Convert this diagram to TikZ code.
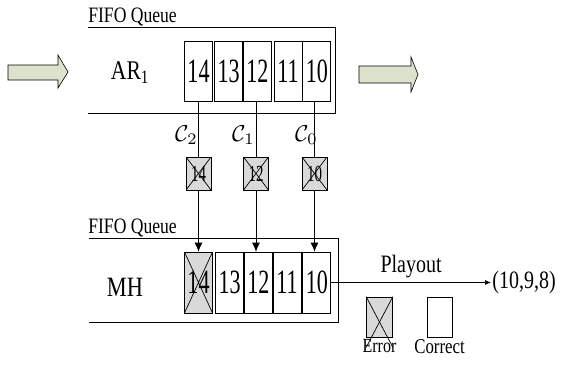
\documentclass[tikz,border=0pt]{standalone}
\usepackage{fontspec}
\setmainfont{Liberation Serif}[FakeStretch=0.8]
\newfontfamily\digitfont{Liberation Serif}[FakeStretch=0.65]
\usetikzlibrary{positioning,arrows.meta}
\definecolor{errgray}{HTML}{D9D9D9}
\definecolor{arrowgreen}{HTML}{DDE2CC}
\newcommand{\fsz}[1]{\fontsize{#1}{#1}\selectfont}
\newcommand{\chan}[1]{\scalebox{2.3}{$\mathcal{C}_{#1}$}}
\begin{document}
\begin{tikzpicture}[x=1pt,y=-1pt,line width=0.7pt]
    \tikzstyle{cell} = [rectangle, draw, minimum width=28pt, minimum height=60pt, inner sep=0pt, font=\digitfont\fsz{34}]
    \tikzstyle{crossed} = [fill=errgray, path picture={\draw (path picture bounding box.north west) -- (path picture bounding box.south east) (path picture bounding box.north east) -- (path picture bounding box.south west);}]
    \tikzstyle{xbox} = [rectangle, draw, crossed, minimum width=25pt, minimum height=33pt, inner sep=0pt, font=\digitfont\fsz{23}]
    \tikzstyle{keybox} = [rectangle, draw, minimum width=26pt, minimum height=40pt, inner sep=0pt]
    \tikzstyle{clabel} = [anchor=east, inner sep=0pt]
    \tikzstyle{label} = [inner sep=0pt, font=\fsz{22}]
    \tikzstyle{arrow} = [-{Latex[length=9pt,width=8pt]}]
    \tikzstyle{block} = [draw, line width=0.6pt, fill=arrowgreen]
    \useasboundingbox (0,0) rectangle (566,365);

    % upper queue (AR)
    \node [label, anchor=base west] (fifo1) at (88,22) {FIFO Queue};
    \draw (88,27) -- (335,27) -- (335,113) -- (88,113);
    \node [label, font=\fsz{27}] (ar) at (130,73) {AR\textsubscript{1}};
    \node [cell] (t14) at (198.5,71) {14};
    \node [cell, right=1.5pt of t14] (t13) {13};
    \node [cell, right=0pt of t13] (t12) {12};
    \node [cell, right=2pt of t12] (t11) {11};
    \node [cell, right=0pt of t11] (t10) {10};
    \draw [block] (8,65) -- (58,65) -- (58,55) -- (68,72) -- (58,88) -- (58,80) -- (8,80) -- cycle;
    \draw [block] (359,66) -- (411,66) -- (411,57) -- (418,74.5) -- (411,92) -- (411,83) -- (359,83) -- cycle;

    % lower queue (MH)
    \node [label, anchor=base west] (fifo2) at (88,233) {FIFO Queue};
    \draw (89,238) -- (338,238) -- (338,322) -- (89,322);
    \node [label, font=\fsz{28}] (mh) at (125,287) {MH};
    \node [cell, crossed, minimum height=61pt] (b14) at (198.5,282.5) {14};
    \node [cell, minimum height=61pt, right=2.5pt of b14] (b13) {13};
    \node [cell, minimum height=61pt, right=0pt of b13] (b12) {12};
    \node [cell, minimum height=61pt, right=0pt of b12] (b11) {11};
    \node [cell, minimum height=61pt, right=1pt of b11] (b10) {10};

    % damaged packets
    \node [xbox] (x14) at (198.5,173.5) {14};
    \node [xbox] (x12) at (256,173.5) {12};
    \node [xbox] (x10) at (314.5,173.5) {10};
    \node [clabel] (c2) at (198,135) {\chan{2}};
    \node [clabel] (c1) at (255,135) {\chan{1}};
    \node [clabel] (c0) at (318,135) {\chan{0}};
    \draw (t14.south) -- (x14);
    \draw (t12.south -| x12) -- (x12);
    \draw (t10.south -| x10) -- (x10);
    \draw [arrow] (x14) -- (x14 |- b14.north);
    \draw [arrow] (x12) -- (x12 |- b12.north);
    \draw [arrow] (x10) -- (x10 |- b10.north);

    % playout
    \coordinate (out) at (491,282.5);
    \draw [-{Latex[length=6pt,width=5pt]}] (b10.east) -- (out) node [label, font=\fsz{25}, midway, above=4pt] (play) {Playout};
    \node [label, font=\fsz{25}, anchor=west, inner sep=1pt] (seq) at (out) {(10,9,8)};

    % legend
    \node [keybox, fill=errgray] (errkey) at (379.5,317) {};
    \draw (errkey.north west) -- ([yshift=-10pt]errkey.south east);
    \draw (errkey.north east) -- ([yshift=-10pt]errkey.south west);
    \node [keybox, minimum width=25pt] (okkey) at (439.5,317) {};
    \node [label, font=\fsz{20}, below=2pt of errkey] (errtxt) {Error};
    \node [label, font=\fsz{21}, below=2pt of okkey] (oktxt) {Correct};
\end{tikzpicture}
\end{document}
